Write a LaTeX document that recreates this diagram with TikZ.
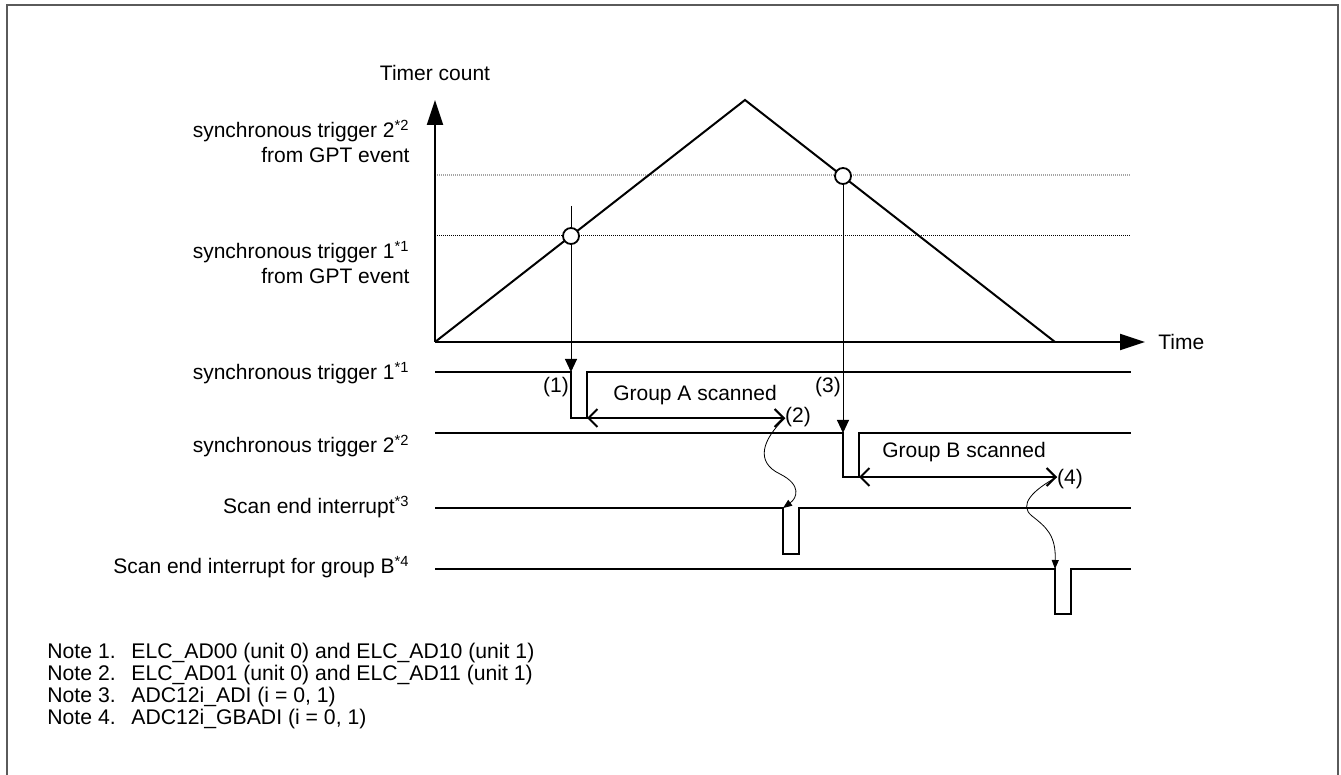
\documentclass[tikz,border=0pt]{standalone}
\usepackage{fontspec}
\setmainfont{Liberation Sans}
\usepackage{tikz}
\usetikzlibrary{arrows.meta, positioning, calc}
\definecolor{FrameGray}{RGB}{90,90,90}
\definecolor{LevelGray}{RGB}{165,165,165}

\begin{document}
\begin{tikzpicture}[x=0.5pt, y=-0.5pt,
    lbl/.style={font=\fontsize{10.5}{12.6}\selectfont, inner sep=0pt},
    note/.style={font=\fontsize{10.6}{12.6}\selectfont, inner sep=0pt, anchor=base west},
    sig/.style={line width=1pt},
    count/.style={line width=1pt},
    axis/.style={line width=1pt, -{Triangle[length=12.5pt, width=8pt]}},
    level/.style={line width=0.5pt, dash pattern=on 0.5pt off 0.5pt},
    link/.style={line width=0.5pt, -{Triangle[length=6.5pt, width=6pt]}},
    span/.style={line width=1pt, {Straight Barb[length=4.5pt, width=9pt]}-{Straight Barb[length=4.5pt, width=9pt]}},
    wave/.style={line width=0.4pt, -{Triangle[length=4.5pt, width=3.5pt]}},
    hit/.style={circle, draw, fill=white, line width=0.9pt, minimum size=8pt, inner sep=0pt}]
  \useasboundingbox (0,0) rectangle (1341,775);
  % Frame
  \draw[FrameGray, line width=1pt] (7,775) -- (7,5) -- (1338,5) -- (1338,775);

  % Timer count graph
  \coordinate (o) at (435,342);
  \coordinate (peak) at (745,100);
  \coordinate (tend) at (1055,342);
  \draw[level, LevelGray, line width=1pt] (435,175) -- (1131,175);
  \draw[level] (435,236) -- (1131,236);
  \draw[axis] (o) -- (435,100) coordinate (ytip);
  \draw[axis] (o) -- (1145,342) coordinate (xtip);
  \draw[count] (o) -- (peak) -- (tend);
  \node[lbl] (timer) at (435,73) {Timer count};
  \node[lbl, anchor=west] (time) at (1158,342) {Time};
  \node[lbl, anchor=base east] (lvlB1) at (410,138) {synchronous trigger 2\textsuperscript{*2}};
  \node[lbl, anchor=base east] (lvlB2) at (410,163) {from GPT event};
  \node[lbl, anchor=base east] (lvlA1) at (410,259) {synchronous trigger 1\textsuperscript{*1}};
  \node[lbl, anchor=base east] (lvlA2) at (410,284) {from GPT event};

  % Signal names
  \node[lbl, anchor=base east] (nTrgA) at (410,380) {synchronous trigger 1\textsuperscript{*1}};
  \node[lbl, anchor=base east] (nTrgB) at (410,453) {synchronous trigger 2\textsuperscript{*2}};
  \node[lbl, anchor=base east] (nIntA) at (410,514) {Scan end interrupt\textsuperscript{*3}};
  \node[lbl, anchor=base east] (nIntB) at (410,574) {Scan end interrupt for group B\textsuperscript{*4}};

  % synchronous trigger 1
  \draw[sig] (435,372) -- (571,372) coordinate (aFall) -- (571,418) -- (587,418) coordinate (aLow)
    -- (587,372) -- (1131,372);
  \draw[span] (aLow) -- (785,418) coordinate (aDone);
  \node[lbl] (grpA) at (695,395) {Group A scanned};

  % synchronous trigger 2
  \draw[sig] (435,433) -- (843,433) coordinate (bFall) -- (843,477) -- (859,477) coordinate (bLow)
    -- (859,433) -- (1131,433);
  \draw[span] (bLow) -- (1057,477) coordinate (bDone);
  \node[lbl] (grpB) at (964,452) {Group B scanned};

  % Scan end interrupts
  \draw[sig] (435,508) -- (783,508) coordinate (iaFall) -- (783,554) -- (799,554) -- (799,508) -- (1131,508);
  \draw[sig] (435,569) -- (1055,569) coordinate (ibFall) -- (1055,614) -- (1071,614) -- (1071,569) -- (1131,569);

  % Trigger points
  \coordinate (aTop) at (571,206);
  \draw[link] (aTop) -- (aFall);
  \node[hit] (cA) at (571,236) {};
  \node[hit] (cB) at (843,176) {};
  \draw[link] (cB) -- (bFall);

  % Scan end links
  \draw[wave] (aDone) .. controls (762,440) and (755,462) .. (780,474)
    .. controls (802,485) and (797,498) .. (iaFall);
  \draw[wave] (bDone) .. controls (1033,490) and (1018,505) .. (1032,516)
    .. controls (1046,527) and (1056,535) .. (ibFall);

  % Step numbers
  \foreach \name/\px/\py/\txt in {s1/556/387/(1), s2/798/417/(2), s3/828/387/(3), s4/1070/479/(4)} {
    \node[lbl] (\name) at (\px,\py) {\txt};
  }

  % Notes
  \foreach \i/\txt in {1/ELC\_AD00 (unit 0) and ELC\_AD10 (unit 1),
                       2/ELC\_AD01 (unit 0) and ELC\_AD11 (unit 1),
                       3/ADC12i\_ADI (i = 0{,} 1),
                       4/ADC12i\_GBADI (i = 0{,} 1)} {
    \node[note] (note\i) at (47,{659+21.8*(\i-1)}) {\makebox[42pt][l]{Note \i.}\txt};
  }
\end{tikzpicture}
\end{document}
